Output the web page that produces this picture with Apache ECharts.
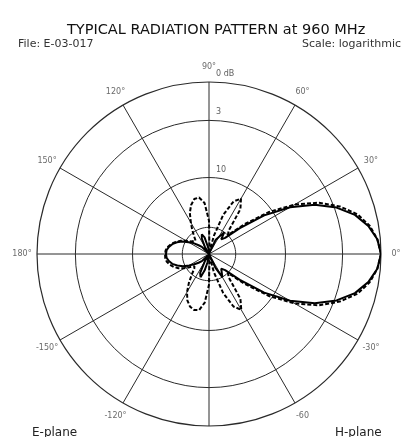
<!DOCTYPE html>
<html>
<head>
<meta charset="utf-8">
<style>
html,body{margin:0;padding:0;background:#fff;}
#chart{width:404px;height:437px;}
</style>
<script src="https://cdn.jsdelivr.net/npm/echarts@6/dist/echarts.min.js"></script>
</head>
<body>
<div id="chart"></div>
<script>
// Angles (degrees, counter-clockwise from 0° at right)
var angles = [0,5,10,15,20,25,30,35,40,45,50,55,60,65,70,75,80,85,90,95,100,105,110,115,120,125,130,135,140,145,150,155,160,165,170,175,180,
              185,190,195,200,205,210,215,220,225,230,235,240,245,250,255,260,265,270,275,280,285,290,295,300,305,310,315,320,325,330,335,340,345,350,355,360];
// H-plane (solid), attenuation in dB below peak
var hPlane = [0,0.2,0.7,1.5,2.8,4.7,7.5,11.5,16.8,21,22,20,20,23,27,27.6,27.6,27.6,27.6,27.6,25,22.5,21.5,22.5,25,27.6,27,24.5,23.5,22,20.8,19.3,18.2,17.3,16.7,16.3,16.2,
              16.3,16.7,17.3,18.3,19.5,21,22.3,23.5,24.5,27,27.6,25,21.5,20.5,22.5,25,27.6,27.6,27.6,27.6,27.6,27,23,20,20,22,21,16.8,11.5,7.5,4.7,2.8,1.5,0.7,0.2,0];
// E-plane (dashed), attenuation in dB below peak
var ePlane = [0,0.2,0.6,1.3,2.5,4.2,6.8,10.5,15.5,20,19,13.8,12.1,13.2,16.5,22,27.6,26,18.4,14.5,13.3,13.4,14.3,15.7,17.7,19.4,20.9,22,22.3,21.3,20,18.9,17.9,17.1,16.5,16.1,16,
              16,16.2,16.7,17.4,18.3,19.5,21,22,21.5,20,18,16,14.5,13.6,13.2,13.4,15,19,26,27.6,22,16.5,13.2,12,13.8,19,20,15.5,10.5,6.8,4.2,2.5,1.3,0.6,0.2,0];
// Grid rings (dB) and their labels
var ringLevels = [3, 10, 20];
var ringLabels = ['0 dB', '3', '10'];
var ringLabelLevels = [0, 3, 10];
// Angle labels around the outer circle
var spokeAngles = [0, 30, 60, 90, 120, 150, 180, 210, 240, 300, 330];
var spokeLabels = ['0°', '30°', '60°', '90°', '120°', '150°', '180°', '-150°', '-120°', '-60', '-30°'];

var DB_FLOOR = 27.6;
var RMAX = Math.log((DB_FLOOR + 7) / 7);
function toR(db) { return Math.log((DB_FLOOR + 7) / (Math.min(db, DB_FLOOR) + 7)); }
function pattern(vals) { return vals.map(function (v, i) { return [toR(v), angles[i]]; }); }

var CENTER = [209, 254];
var series = [];
ringLevels.forEach(function (lv) {
  series.push({
    type: 'line', coordinateSystem: 'polar', polarIndex: 0, silent: true, symbol: 'none',
    lineStyle: { color: '#2a2a2a', width: 1 },
    data: angles.map(function (a) { return [toR(lv), a]; })
  });
});
series.push({
  name: 'H-plane', type: 'line', coordinateSystem: 'polar', polarIndex: 0, symbol: 'none',
  lineStyle: { color: '#000', width: 2 },
  data: pattern(hPlane)
});
series.push({
  name: 'E-plane', type: 'line', coordinateSystem: 'polar', polarIndex: 0, symbol: 'none',
  lineStyle: { color: '#000', width: 2, type: [4, 2] },
  data: pattern(ePlane)
});
series.push({
  type: 'scatter', coordinateSystem: 'polar', polarIndex: 0, symbolSize: 0, silent: true,
  label: { show: true, position: 'right', distance: 7, offset: [0, -8], color: '#333', fontSize: 8, fontFamily: 'DejaVu Sans',
           formatter: function (p) { return ringLabels[p.dataIndex]; } },
  data: ringLabelLevels.map(function (lv) { return [toR(lv), 90]; })
});
series.push({
  type: 'scatter', coordinateSystem: 'polar', polarIndex: 1, symbolSize: 0, silent: true,
  label: { show: true, position: 'inside', color: '#444', fontSize: 8, fontFamily: 'DejaVu Sans',
           formatter: function (p) { return spokeLabels[p.dataIndex]; } },
  data: spokeAngles.map(function (a) { return [1, a]; })
});

var chart = echarts.init(document.getElementById('chart'));
chart.setOption({
  animation: false,
  backgroundColor: '#fff',
  title: [
    { text: 'TYPICAL RADIATION PATTERN at 960 MHz', left: 62, top: 18,
      textStyle: { fontFamily: 'DejaVu Sans', fontSize: 14.5, fontWeight: 'normal', color: '#111' } }
  ],
  graphic: [
    { type: 'text', left: 18, top: 39, style: { text: 'File: E-03-017', font: '11px "DejaVu Sans"', fill: '#333' } },
    { type: 'text', right: 3, top: 39, style: { text: 'Scale: logarithmic', font: '11px "DejaVu Sans"', fill: '#333' } },
    { type: 'text', left: 32, top: 427, style: { text: 'E-plane', font: '12px "DejaVu Sans"', fill: '#222' } },
    { type: 'text', left: 335, top: 427, style: { text: 'H-plane', font: '12px "DejaVu Sans"', fill: '#222' } }
  ],
  polar: [
    { center: CENTER, radius: 172 },
    { center: CENTER, radius: 187 }
  ],
  angleAxis: [
    {
      polarIndex: 0, type: 'value', min: 0, max: 360, interval: 30, startAngle: 0, clockwise: false,
      axisLine: { show: true, lineStyle: { color: '#2a2a2a', width: 1.2 } },
      axisTick: { show: false },
      splitLine: { show: true, lineStyle: { color: '#2a2a2a', width: 1 } },
      axisLabel: { show: false }
    },
    { polarIndex: 1, type: 'value', min: 0, max: 360, startAngle: 0, clockwise: false, show: false }
  ],
  radiusAxis: [
    { polarIndex: 0, type: 'value', min: 0, max: RMAX, show: false },
    { polarIndex: 1, type: 'value', min: 0, max: 1, show: false }
  ],
  series: series
});
</script>
</body>
</html>
